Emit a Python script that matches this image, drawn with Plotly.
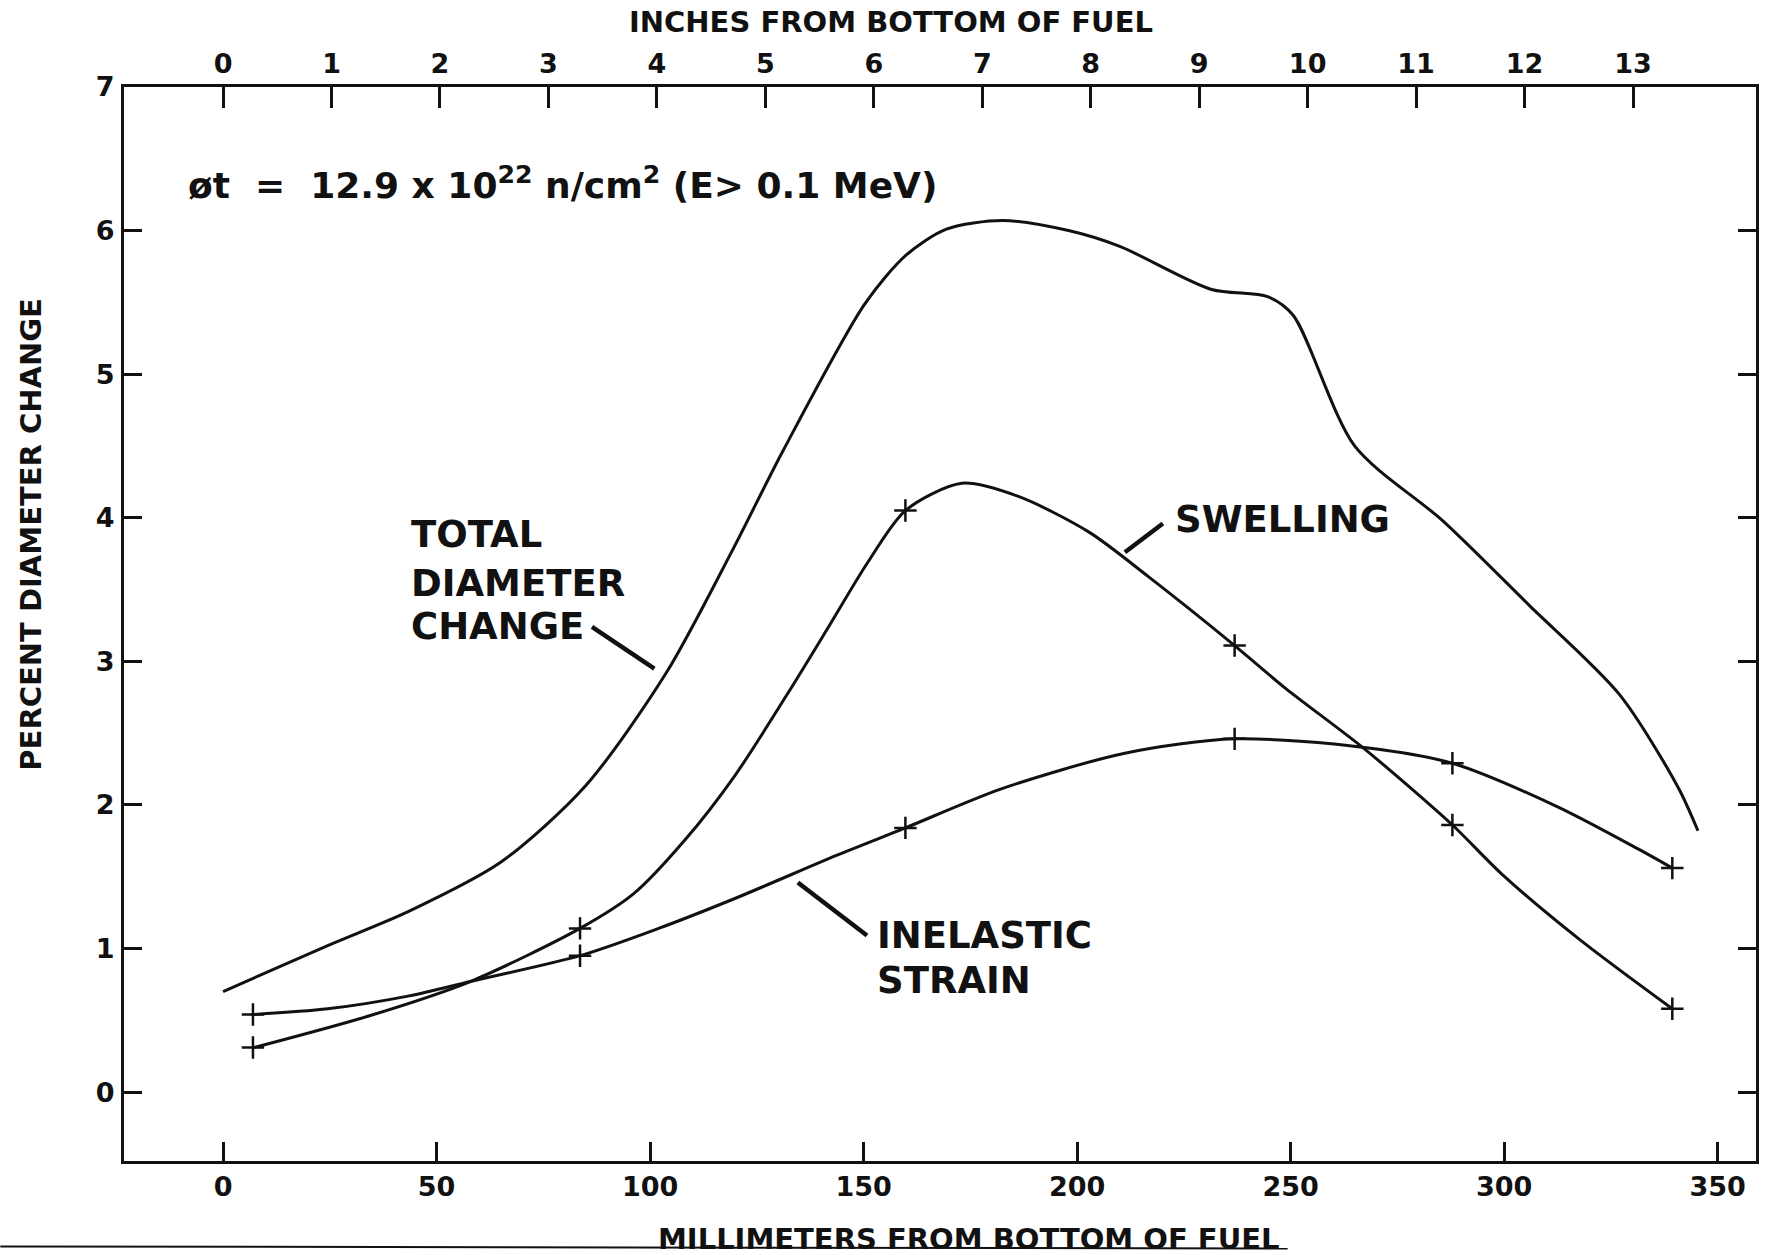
import plotly.graph_objects as go

# ---------------- data ----------------
# Millimetres from bottom of fuel / percent diameter change
TOTAL_MM = [0, 24.5, 43.6, 65, 84.8, 103.8, 119.4, 131.2, 150.3, 160,
            169.4, 182.5, 198, 210, 231.5, 244.6, 250.6, 265.0, 285.6,
            305.9, 327, 340.8, 345.4]
TOTAL_PCT = [0.70, 1.02, 1.26, 1.60, 2.13, 2.92, 3.78, 4.47, 5.49, 5.83,
             6.01, 6.07, 6.00, 5.89, 5.59, 5.54, 5.41, 4.50, 3.98,
             3.39, 2.77, 2.12, 1.82]

SWELL_MM = [7.2, 34.1, 57.9, 83.6, 96.1, 108, 120, 131.9, 141.4, 151, 159.8, 173,
            186.1, 202.8, 216.7, 236.9, 248.9, 267.3, 287.9, 299.4, 317.8, 339.4]
SWELL_PCT = [0.31, 0.53, 0.77, 1.14, 1.38, 1.75, 2.21, 2.76, 3.22, 3.69, 4.05, 4.24,
             4.15, 3.90, 3.59, 3.11, 2.81, 2.39, 1.86, 1.52, 1.06, 0.58]

INEL_MM = [6.6, 24.5, 43.6, 57.9, 83.6, 102, 120, 143.8, 159.8, 182.1, 211.2,
           236.9, 267.3, 287.9, 312.3, 331.6, 339.4]
INEL_PCT = [0.54, 0.58, 0.67, 0.77, 0.95, 1.14, 1.35, 1.65, 1.84, 2.11, 2.36,
            2.46, 2.40, 2.29, 1.99, 1.69, 1.56]

# measured points (small crosses)
POINT_MM = [7.0, 83.6, 159.8, 236.9, 287.9, 339.4]
SWELL_POINTS = [0.31, 1.14, 4.05, 3.11, 1.86, 0.58]
INEL_POINTS = [0.54, 0.95, 1.84, 2.46, 2.29, 1.56]

MM_TICKS = [0, 50, 100, 150, 200, 250, 300, 350]
INCH_TICKS = list(range(0, 14))
PCT_TICKS = [0, 1, 2, 3, 4, 5, 6, 7]

FONT = "DejaVu Sans, Verdana, sans-serif"
BLACK = "#111111"

fig = go.Figure()

curve_style = dict(mode="lines", line=dict(color=BLACK, width=3, shape="spline", smoothing=0.8),
                   hoverinfo="skip", showlegend=False)
fig.add_trace(go.Scatter(x=TOTAL_MM, y=TOTAL_PCT, name="Total diameter change", **curve_style))
fig.add_trace(go.Scatter(x=SWELL_MM, y=SWELL_PCT, name="Swelling", **curve_style))
fig.add_trace(go.Scatter(x=INEL_MM, y=INEL_PCT, name="Inelastic strain", **curve_style))

pt_style = dict(mode="markers",
                marker=dict(symbol="cross-thin", size=16, color=BLACK,
                            line=dict(color=BLACK, width=2.5)),
                showlegend=False)
fig.add_trace(go.Scatter(x=POINT_MM, y=SWELL_POINTS, name="Swelling points", **pt_style))
fig.add_trace(go.Scatter(x=POINT_MM, y=INEL_POINTS, name="Inelastic points", **pt_style))

# invisible trace that activates the top (inches) axis
fig.add_trace(go.Scatter(x=[INCH_TICKS[0]], y=[PCT_TICKS[0]], xaxis="x2", mode="markers",
                         marker=dict(opacity=0), hoverinfo="skip", showlegend=False))

X0, X1 = -23.2, 359.0
tickfont = dict(family=FONT, size=27, color=BLACK, weight="bold")

fig.update_layout(
    width=1766, height=1255,
    margin=dict(l=124, r=7, t=87, b=94),
    paper_bgcolor="white", plot_bgcolor="white",
    font=dict(family=FONT, color=BLACK),
    xaxis=dict(range=[X0, X1], tickvals=MM_TICKS, ticks="inside", ticklen=19, tickwidth=2.5,
               tickcolor=BLACK, showline=True, linecolor=BLACK, linewidth=3, mirror=False,
               showgrid=False, zeroline=False, tickfont=tickfont, ticklabelstandoff=0),
    xaxis2=dict(range=[X0 / 25.4, X1 / 25.4], overlaying="x", side="top",
                tickvals=INCH_TICKS, ticks="inside", ticklen=21, tickwidth=2.5,
                tickcolor=BLACK, showline=True, linecolor=BLACK, linewidth=3,
                showgrid=False, zeroline=False, tickfont=tickfont, ticklabelstandoff=0),
    yaxis=dict(range=[-0.48, 7.0], tickvals=PCT_TICKS, ticks="inside", ticklen=18,
               tickwidth=2.5, tickcolor=BLACK, showline=True, linecolor=BLACK, linewidth=3,
               mirror="ticks", showgrid=False, zeroline=False, tickfont=tickfont,
               ticklabelstandoff=1),
)

title_font = dict(family=FONT, size=29, color=BLACK, weight="bold")
label_font = dict(family=FONT, size=37, color=BLACK, weight="bold")

annotations = [
    dict(text="MILLIMETERS FROM BOTTOM OF FUEL", xref="paper", yref="paper",
         x=0.5177, y=-0.0726, xanchor="center", yanchor="middle", showarrow=False, font=title_font),
    dict(text="INCHES FROM BOTTOM OF FUEL", xref="paper", yref="paper",
         x=0.4697, y=1.0601, xanchor="center", yanchor="middle", showarrow=False, font=title_font),
    dict(text="PERCENT DIAMETER CHANGE", xref="paper", yref="paper", textangle=-90,
         x=-0.0572, y=0.5838, xanchor="center", yanchor="middle", showarrow=False, font=title_font),
    dict(text="øt  =  12.9 x 10<sup>22</sup> n/cm<sup>2</sup> (E> 0.1 MeV)", xref="x", yref="y",
         x=-8.6, y=6.33, xanchor="left", yanchor="middle", showarrow=False,
         font=dict(family=FONT, size=36, color=BLACK, weight="bold")),
    dict(text="TOTAL", x=43.6, y=3.88, xanchor="left", yanchor="middle", showarrow=False, font=label_font),
    dict(text="DIAMETER", x=43.6, y=3.54, xanchor="left", yanchor="middle", showarrow=False, font=label_font),
    dict(text="CHANGE", x=43.6, y=3.24, xanchor="left", yanchor="middle", showarrow=False, font=label_font),
    dict(text="SWELLING", x=222.4, y=3.99, xanchor="left", yanchor="middle", showarrow=False, font=label_font),
    dict(text="INELASTIC", x=152.7, y=1.09, xanchor="left", yanchor="middle", showarrow=False, font=label_font),
    dict(text="STRAIN", x=152.7, y=0.78, xanchor="left", yanchor="middle", showarrow=False, font=label_font),
]
fig.update_layout(annotations=annotations)

leader = dict(type="line", xref="x", yref="y", line=dict(color=BLACK, width=4.5))
fig.update_layout(shapes=[
    dict(x0=86.4, y0=3.24, x1=101.0, y1=2.95, **leader),
    dict(x0=211.2, y0=3.76, x1=220.1, y1=3.96, **leader),
    dict(x0=134.6, y0=1.46, x1=150.8, y1=1.09, **leader),
    dict(type="line", xref="paper", yref="paper", x0=-0.0758, y0=-0.0795, x1=0.713, y1=-0.0815,
         line=dict(color=BLACK, width=2)),
])

fig.write_html("out.html")
